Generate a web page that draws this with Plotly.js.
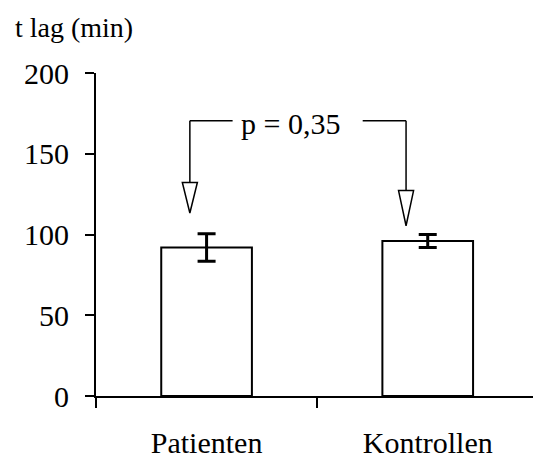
<!DOCTYPE html>
<html>
<head>
<meta charset="utf-8">
<script src="https://cdn.plot.ly/plotly-3.0.1.min.js"></script>
<style>
  html, body { margin: 0; padding: 0; background: #fff; }
  #chart { width: 533px; height: 459px; }
</style>
</head>
<body>
<div id="chart"></div>
<script>
// Lag time per group, mean with error
const groups = ['Patienten', 'Kontrollen'];
const lagMean = [92, 96];
const lagError = [8.5, 4];
const yTicks = [0, 50, 100, 150, 200];
const pLabel = 'p = 0,35';

const FONT = 'Liberation Serif';

const bars = {
  type: 'bar',
  x: groups,
  y: lagMean,
  width: 0.41,
  marker: { color: '#ffffff', line: { color: '#000', width: 2 } },
  error_y: { type: 'data', array: lagError, visible: true, color: '#000', thickness: 3, width: 9 },
  hoverinfo: 'skip'
};

// bracket with open arrowheads pointing at both bars
const bracketY = 170.5;
const leftX = -0.0756, rightX = 0.902;
const leftBase = 132.2, leftTip = 113.3;
const rightBase = 127.2, rightTip = 105.4;
const hw = 0.034;
const line = { color: '#000', width: 1.5 };
const shapes = [
  { type: 'line', xref: 'x', yref: 'y', x0: leftX, x1: 0.1177, y0: bracketY, y1: bracketY, line },
  { type: 'line', xref: 'x', yref: 'y', x0: 0.7059, x1: rightX, y0: bracketY, y1: bracketY, line },
  { type: 'line', xref: 'x', yref: 'y', x0: leftX, x1: leftX, y0: bracketY, y1: leftBase, line },
  { type: 'line', xref: 'x', yref: 'y', x0: rightX, x1: rightX, y0: bracketY, y1: rightBase, line },
  { type: 'path', xref: 'x', yref: 'y', fillcolor: '#fff', line,
    path: `M ${leftX - hw} ${leftBase} L ${leftX + hw} ${leftBase} L ${leftX} ${leftTip} Z` },
  { type: 'path', xref: 'x', yref: 'y', fillcolor: '#fff', line,
    path: `M ${rightX - hw} ${rightBase} L ${rightX + hw} ${rightBase} L ${rightX} ${rightTip} Z` }
];

const layout = {
  width: 533, height: 459,
  margin: { l: 96, r: 0, t: 73, b: 63 },
  paper_bgcolor: '#fff', plot_bgcolor: '#fff',
  showlegend: false,
  font: { family: FONT, color: '#000', size: 30 },
  title: {
    text: 't lag (min)', font: { family: FONT, size: 28, color: '#000' },
    xref: 'container', yref: 'container', x: 15 / 533, xanchor: 'left',
    y: 1 - 27 / 459, yanchor: 'middle'
  },
  xaxis: {
    type: 'category', range: [-0.5, 1.476],
    showline: true, linecolor: '#000', linewidth: 2,
    ticks: 'outside', tickson: 'boundaries', ticklen: 10, tickwidth: 2, tickcolor: '#000',
    showgrid: false, zeroline: false, fixedrange: true,
    ticklabelstandoff: 19,
    tickfont: { family: FONT, size: 30, color: '#000' }
  },
  yaxis: {
    range: [0, 200], tickvals: yTicks, ticktext: yTicks.map(String),
    showline: true, linecolor: '#000', linewidth: 2,
    ticks: 'outside', ticklen: 9, tickwidth: 2, tickcolor: '#000',
    showgrid: false, zeroline: false, fixedrange: true,
    ticklabelstandoff: 10,
    tickfont: { family: FONT, size: 30, color: '#000' }
  },
  shapes,
  annotations: [{
    text: pLabel, xref: 'x', yref: 'y', x: 0.381, y: 169,
    showarrow: false, xanchor: 'center', yanchor: 'middle',
    font: { family: FONT, size: 30, color: '#000' }
  }]
};

Plotly.newPlot('chart', [bars], layout, { displayModeBar: false, staticPlot: true });
</script>
</body>
</html>
